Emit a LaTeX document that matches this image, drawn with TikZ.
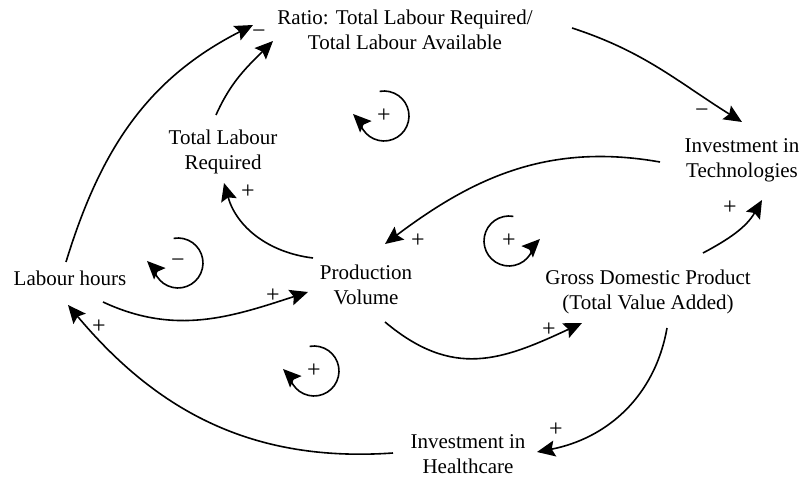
\documentclass[tikz,border=0pt]{standalone}
\usepackage{fontspec}
\setmainfont{Liberation Serif}
\usetikzlibrary{arrows.meta,calc}

\begin{document}
\begin{tikzpicture}[x=1pt,y=1pt,
  var/.style={align=center, inner sep=0pt, font=\fontsize{21}{25}\selectfont},
  sgn/.style={inner sep=0pt, font=\fontsize{24}{24}\selectfont},
  link/.style={-{Stealth[length=18pt,width=16pt,inset=3pt]}, line width=1.6pt}]
\useasboundingbox (0,0) rectangle (803,477);
\node[var] (ratio) at (405,447) {Ratio: Total Labour Required/\\Total Labour Available};
\node[var] (tlr) at (223,325) {Total Labour\\Required};
\node[var] (tech) at (742,317) {Investment in\\Technologies};
\node[var] (hours) at (70,199) {Labour hours};
\node[var] (prod) at (366,192) {Production\\Volume};
\node[var] (gdp) at (648,185) {Gross Domestic Product\\(Total Value Added)};
\node[var] (health) at (468,23) {Investment in\\Healthcare};
\draw[link] ($(hours)+(-4,16)$) to[out=73,in=207] ($(ratio)+(-152,5)$);
\draw[link] ($(tlr)+(-7,37)$) to[out=66,in=225] ($(ratio)+(-132,-11)$);
\draw[link] ($(ratio)+(167,2)$) to[out=-18,in=148] ($(tech)+(0,38)$);
\draw[link] ($(tech)+(-82,-2)$) to[out=170,in=37] ($(prod)+(19,41)$);
\draw[link] ($(gdp)+(55,39)$) to[out=28,in=240] ($(tech)+(20,-40)$);
\draw[link] ($(prod)+(-53,27)$) to[out=173,in=-74] ($(tlr)+(1,-31)$);
\draw[link] ($(hours)+(33,-24)$) to[out=-25,in=198] ($(prod)+(-58,-7)$);
\draw[link] ($(health)+(-75,1)$) to[out=184,in=-50] ($(hours)+(-2,-27)$);
\draw[link] ($(prod)+(19,-37)$) to[out=-40,in=205,looseness=1.15] ($(gdp)+(-66,-31)$);
\draw[link] ($(gdp)+(19,-36)$) to[out=260,in=11] ($(health)+(69,2)$);
\node[sgn] (s1) at (259,443) {−};
\node[sgn] (s2) at (702,364) {−};
\node[sgn] (s3) at (730,269) {+};
\node[sgn] (s4) at (248,285) {+};
\node[sgn] (s5) at (418,236) {+};
\node[sgn] (s6) at (273,181) {+};
\node[sgn] (s7) at (99,150) {+};
\node[sgn] (s8) at (549,147) {+};
\node[sgn] (s9) at (556,47) {+};
\node[sgn] (lp1) at (384,361) {+};
\node[sgn] (lp2) at (178,214) {−};
\node[sgn] (lp3) at (314,106) {+};
\node[sgn] (lp4) at (509,236) {+};
\draw[link] ([shift={(100:25)}]lp1.center) arc[start angle=100, end angle=-170, radius=25] -- ++(135:9);
\draw[link] ([shift={(100:25)}]lp2.center) arc[start angle=100, end angle=-170, radius=25] -- ++(135:9);
\draw[link] ([shift={(100:25)}]lp3.center) arc[start angle=100, end angle=-170, radius=25] -- ++(135:9);
\draw[link] ([shift={(80:25)}]lp4.center) arc[start angle=80, end angle=350, radius=25] -- ++(45:9);
\end{tikzpicture}
\end{document}
